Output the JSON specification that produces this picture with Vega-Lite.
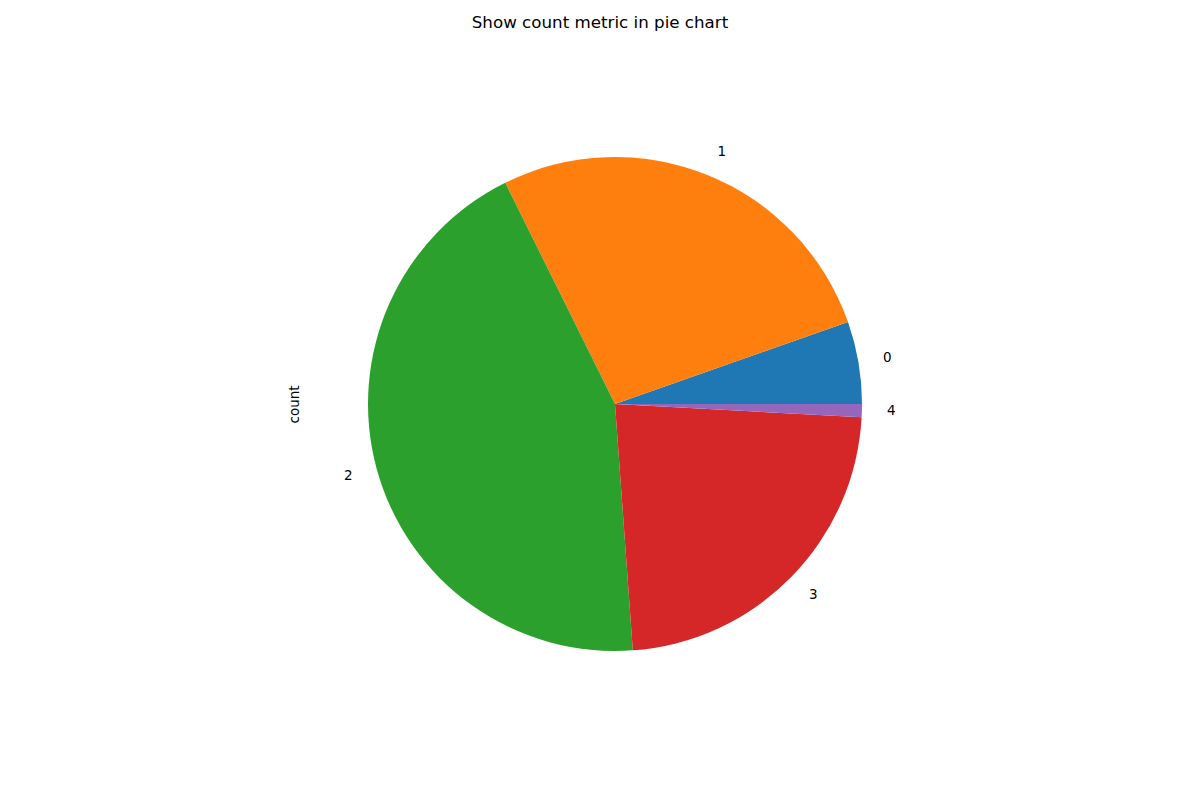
{
  "$schema": "https://vega.github.io/schema/vega-lite/v6.json",
  "width": 616,
  "height": 616,
  "autosize": {"type": "none"},
  "padding": {"left": 307, "top": 96, "right": 277, "bottom": 88},
  "background": "white",
  "title": {
    "text": "Show count metric in pie chart",
    "anchor": "middle",
    "dx": -15,
    "offset": 64,
    "font": "DejaVu Sans",
    "fontSize": 16.7,
    "fontWeight": "normal",
    "color": "black"
  },
  "data": {
    "values": [
      {"label": "0", "count": 5.38},
      {"label": "1", "count": 26.95},
      {"label": "2", "count": 43.82},
      {"label": "3", "count": 22.99},
      {"label": "4", "count": 0.86}
    ]
  },
  "config": {"view": {"stroke": null}},
  "layer": [
    {
      "mark": {"type": "arc", "outerRadius": 247},
      "encoding": {
        "theta": {"field": "count", "type": "quantitative", "stack": true, "scale": {"range": [1.5707963, -4.712389]}},
        "order": {"field": "label", "type": "ordinal"},
        "color": {
          "field": "label",
          "type": "nominal",
          "scale": {"domain": ["0", "1", "2", "3", "4"], "range": ["#1f77b4", "#ff7f0e", "#2ca02c", "#d62728", "#9467bd"]},
          "legend": null
        }
      }
    },
    {
      "mark": {
        "type": "text",
        "radius": 272,
        "font": "DejaVu Sans",
        "fontSize": 13.5,
        "color": "black",
        "baseline": "middle",
        "align": {"expr": "datum.label == '2' ? 'right' : 'left'"}
      },
      "encoding": {
        "theta": {"field": "count", "type": "quantitative", "stack": true},
        "order": {"field": "label", "type": "ordinal"},
        "text": {"field": "label"}
      }
    },
    {
      "mark": {"type": "rule", "opacity": 0},
      "encoding": {
        "y": {
          "field": "count",
          "type": "quantitative",
          "axis": {
            "title": "count",
            "labels": false,
            "ticks": false,
            "domain": false,
            "grid": false,
            "titleFont": "DejaVu Sans",
            "titleFontSize": 13.5,
            "titleFontWeight": "normal",
            "titleColor": "black",
            "titlePadding": 6
          }
        }
      }
    }
  ]
}
